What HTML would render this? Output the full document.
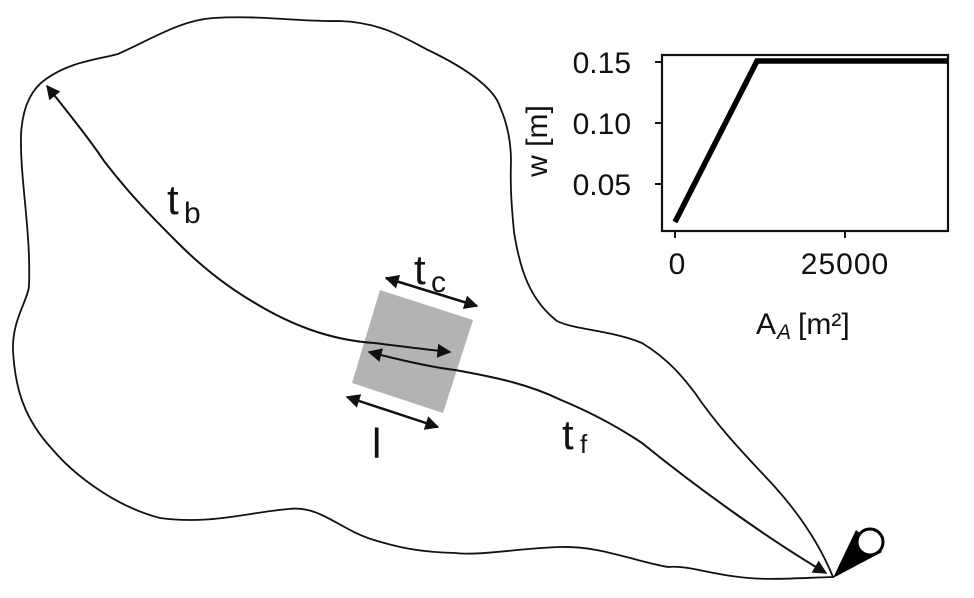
<!DOCTYPE html>
<html><head><meta charset="utf-8"><style>
html,body{margin:0;padding:0;background:#fff}
svg{display:block}
text{font-family:"Liberation Sans",sans-serif;fill:#111}
</style></head><body>
<svg width="974" height="598" viewBox="0 0 974 598" xmlns="http://www.w3.org/2000/svg">
<defs>
<marker id="ab" viewBox="0 0 10 10" refX="9" refY="5" markerWidth="16" markerHeight="14" orient="auto-start-reverse" markerUnits="userSpaceOnUse">
<path d="M0,0 L10,5 L0,10 z" fill="#111"/></marker>
</defs>
<path d="M833,577 C800,578 770,580 749,578 C710,575 690,565 668,567 C630,560 600,546 561,547 C520,548 480,556 455,553 C420,552 400,548 374,540 C340,530 320,505 289,509 C250,512 210,525 160,518 C110,505 70,470 53,450 C25,420 15,390 13,350 C12,320 28,300 29,286 C31,230 20,180 21,136 C22,110 30,90 46,79 C70,62 95,60 118,54 C150,40 180,20 214,18 C260,15 300,22 339,21 C380,22 405,38 428,50 C470,70 495,90 500,107 C510,130 511,150 511,161 C510,190 512,210 514,232 C520,270 530,300 557,321 C575,330 610,330 642,343 C670,360 685,380 695,393 C720,430 750,460 775,487 C800,515 820,545 833,577 Z" fill="none" stroke="#111" stroke-width="1.8"/>
<polygon points="380,290 473,320 443,413 352,383" fill="#b3b3b3"/>
<path d="M47,86 C70,115 90,140 104,161 C130,195 155,220 178,243 C200,265 225,285 250,300 C290,325 330,340 374,343 C400,346 430,350 450,352" fill="none" stroke="#111" stroke-width="2" marker-start="url(#ab)" marker-end="url(#ab)"/>
<path d="M369,352 C400,360 430,367 455,370 C500,378 530,385 561,400 C590,412 615,425 642,443 C700,490 770,540 826,573" fill="none" stroke="#111" stroke-width="2" marker-start="url(#ab)" marker-end="url(#ab)"/>
<line x1="386" y1="278" x2="477" y2="306" stroke="#111" stroke-width="2.5" marker-start="url(#ab)" marker-end="url(#ab)"/>
<line x1="347" y1="397" x2="438" y2="427" stroke="#111" stroke-width="2.5" marker-start="url(#ab)" marker-end="url(#ab)"/>
<polygon points="833,578 856,530 882,552" fill="#000"/>
<circle cx="870" cy="542" r="13" fill="#fff" stroke="#000" stroke-width="3"/>
<text x="167" y="214" font-size="42">t</text><text x="184" y="223" font-size="30">b</text>
<text x="414" y="284" font-size="42">t</text><text x="431" y="292" font-size="30">c</text>
<text x="372" y="458" font-size="42">l</text>
<text x="562" y="449" font-size="42">t</text><text x="580" y="453" font-size="26">f</text>
<rect x="662" y="55" width="286" height="176" fill="#fff" stroke="#111" stroke-width="2.2"/>
<g stroke="#111" stroke-width="2">
<line x1="655" y1="62" x2="662" y2="62"/><line x1="655" y1="123" x2="662" y2="123"/><line x1="655" y1="184" x2="662" y2="184"/>
<line x1="675" y1="231" x2="675" y2="238"/><line x1="845" y1="231" x2="845" y2="238"/>
</g>
<polyline points="675,222 757,61 948,61" fill="none" stroke="#000" stroke-width="5.5"/>
<g font-size="30" text-anchor="end">
<text x="631" y="73">0.15</text><text x="631" y="134">0.10</text><text x="631" y="195">0.05</text>
</g>
<g font-size="30" text-anchor="middle">
<text x="677" y="274">0</text><text x="845" y="274" letter-spacing="1">25000</text>
</g>
<text x="0" y="0" font-size="30" text-anchor="middle" transform="translate(547,141) rotate(-90)">w [m]</text>
<text x="756" y="334" font-size="30">A</text><text x="777" y="339" font-size="21" font-style="italic">A</text><text x="798" y="334" font-size="30">[m²]</text>
</svg>
</body></html>
